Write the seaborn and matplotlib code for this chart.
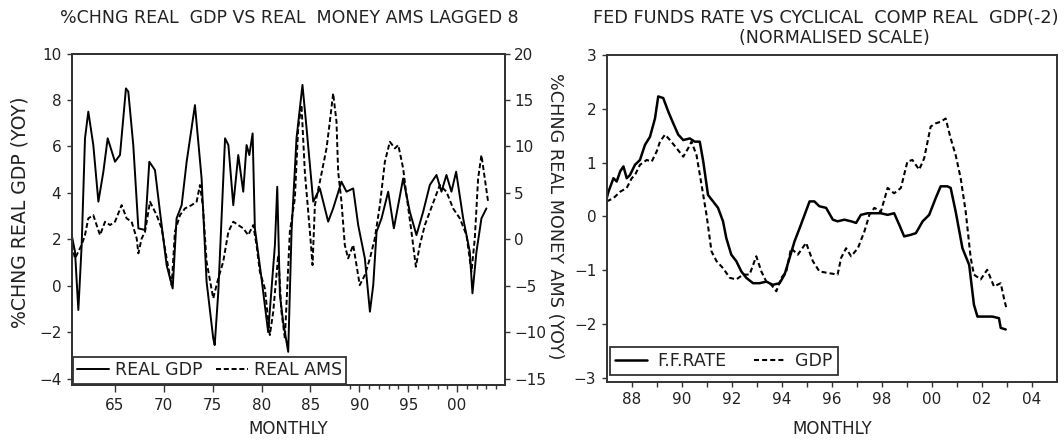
import matplotlib
matplotlib.use("Agg")
import matplotlib.pyplot as plt
import seaborn as sns
import pandas as pd
from matplotlib.ticker import FixedLocator, FuncFormatter

# ---------------- data ----------------
# Left panel: %chng real GDP (YoY, left axis)
GDP_YEARS = [1960.57, 1960.91, 1961.25, 1961.59, 1961.93, 1962.27, 1962.78, 1963.30, 1963.81, 1964.25,
             1965.00, 1965.51, 1966.12, 1966.36, 1966.87, 1967.39, 1968.07, 1968.51, 1969.09, 1969.60,
             1970.28, 1970.90, 1971.30, 1971.82, 1972.33, 1973.18, 1973.86, 1974.37, 1975.05, 1975.20,
             1975.57, 1976.26, 1976.60, 1977.10, 1977.61, 1978.12, 1978.46, 1978.74, 1979.08, 1979.31,
             1979.99, 1980.67, 1981.36, 1981.60, 1981.87, 1982.20, 1982.72, 1983.06, 1983.57, 1984.18,
             1984.60, 1985.28, 1985.96, 1986.81, 1987.32, 1988.17, 1988.68, 1989.37, 1989.88, 1990.56,
             1991.08, 1991.42, 1991.76, 1992.27, 1992.95, 1993.53, 1994.48, 1995.16, 1995.84, 1996.53,
             1997.21, 1997.89, 1998.40, 1998.91, 1999.42, 1999.90, 2000.62, 2001.30, 2001.57, 2001.98,
             2002.49, 2003.00]
GDP_YOY = [2.18, 1.46, -1.05, 1.75, 6.35, 7.50, 6.06, 3.62, 4.91, 6.35,
           5.34, 5.63, 8.50, 8.36, 6.06, 2.47, 2.40, 5.34, 4.98, 3.19,
           0.89, -0.12, 2.90, 3.47, 5.34, 7.78, 4.62, 0.17, -2.27, -2.56,
           -0.26, 6.35, 6.06, 3.47, 5.63, 4.05, 6.06, 5.63, 6.56, 2.47,
           0.31, -2.00, 1.75, 4.26, -0.40, -1.55, -2.85, 2.32, 6.35, 8.65,
           6.78, 3.62, 4.19, 2.76, 3.33, 4.48, 4.05, 4.19, 2.61, 1.18,
           -1.12, 0.03, 2.32, 2.90, 4.05, 2.47, 4.62, 3.19, 2.18, 3.19,
           4.34, 4.77, 4.05, 4.77, 4.05, 4.91, 2.90, 1.46, -0.33, 1.46,
           2.90, 3.33]

# Left panel: %chng real money AMS lagged 8 (YoY, right axis)
AMS_YEARS = [1960.57, 1960.91, 1961.25, 1961.59, 1961.93, 1962.27, 1962.78, 1963.12, 1963.47, 1963.98,
             1964.49, 1965.00, 1965.68, 1966.19, 1966.70, 1967.22, 1967.39, 1967.73, 1968.07, 1968.58,
             1969.26, 1969.77, 1970.28, 1970.80, 1971.13, 1971.65, 1972.16, 1972.84, 1973.35, 1973.69,
             1974.00, 1974.37, 1975.05, 1975.57, 1976.07, 1976.60, 1977.10, 1977.61, 1978.12, 1978.63,
             1979.14, 1979.48, 1979.82, 1980.33, 1980.84, 1981.19, 1981.70, 1982.03, 1982.38, 1982.89,
             1983.40, 1983.74, 1984.08, 1984.42, 1984.94, 1985.21, 1985.45, 1985.96, 1986.64, 1986.98,
             1987.32, 1987.66, 1987.83, 1988.17, 1988.51, 1988.85, 1989.37, 1990.04, 1990.56, 1991.08,
             1991.58, 1992.10, 1992.61, 1993.12, 1993.64, 1993.98, 1994.48, 1994.82, 1995.33, 1995.78,
             1996.19, 1996.70, 1997.21, 1997.72, 1998.23, 1998.91, 1999.59, 2000.28, 2000.96, 2001.47,
             2001.81, 2002.15, 2002.49, 2002.83, 2003.17]
AMS_YOY = [-0.60, -2.06, -1.34, -0.60, 0.45, 2.25, 2.60, 1.53, 0.45, 1.89,
           1.53, 1.89, 3.68, 2.25, 1.89, 0.09, -1.52, 0.09, 0.80, 4.04,
           2.60, 1.17, -2.06, -4.94, 0.81, 2.60, 3.32, 3.68, 4.04, 5.84,
           3.50, -2.42, -6.37, -4.20, -2.42, 0.81, 1.89, 1.53, 1.17, 0.45,
           1.53, -0.62, -3.50, -5.29, -10.32, -7.80, -1.70, -7.80, -10.68, 0.81,
           4.40, 11.95, 14.46, 7.28, 0.81, -2.78, 3.68, 6.20, 9.79, 12.67,
           15.72, 12.67, 7.28, 4.04, -0.62, -2.06, -0.62, -4.94, -3.86, -2.06,
           0.09, 3.68, 8.35, 10.50, 9.79, 10.15, 7.64, 4.76, 0.81, -2.96,
           -0.62, 1.53, 2.97, 4.40, 5.84, 5.12, 3.32, 2.25, 0.45, -3.50,
           0.09, 6.56, 9.07, 6.56, 4.04]

# Right panel: Fed funds rate (normalised)
FF_YEARS = [1987.00, 1987.07, 1987.27, 1987.40, 1987.54, 1987.67, 1987.80, 1987.93, 1988.13, 1988.33,
            1988.53, 1988.73, 1988.93, 1989.06, 1989.26, 1989.46, 1989.66, 1989.86, 1990.06, 1990.32,
            1990.52, 1990.72, 1990.86, 1991.05, 1991.25, 1991.45, 1991.65, 1991.78, 1991.98, 1992.18,
            1992.38, 1992.58, 1992.85, 1993.11, 1993.38, 1993.64, 1993.91, 1994.11, 1994.31, 1994.51,
            1994.71, 1994.91, 1995.11, 1995.30, 1995.50, 1995.77, 1996.04, 1996.23, 1996.50, 1996.77,
            1996.97, 1997.16, 1997.43, 1997.70, 1997.96, 1998.23, 1998.49, 1998.69, 1998.89, 1999.16,
            1999.36, 1999.63, 1999.89, 2000.15, 2000.35, 2000.62, 2000.75, 2000.95, 2001.22, 2001.49,
            2001.68, 2001.82, 2002.09, 2002.42, 2002.68, 2002.75, 2002.95]
FF_RATE = [0.34, 0.46, 0.71, 0.65, 0.84, 0.93, 0.71, 0.77, 0.96, 1.05,
           1.33, 1.48, 1.82, 2.23, 2.20, 1.95, 1.73, 1.52, 1.42, 1.45,
           1.39, 1.39, 1.02, 0.40, 0.28, 0.16, -0.09, -0.40, -0.71, -0.83,
           -1.02, -1.14, -1.24, -1.24, -1.21, -1.27, -1.24, -1.08, -0.77, -0.46,
           -0.22, 0.03, 0.28, 0.28, 0.19, 0.16, -0.06, -0.09, -0.06, -0.09,
           -0.12, 0.03, 0.06, 0.06, 0.06, 0.03, 0.06, -0.15, -0.37, -0.34,
           -0.31, -0.09, 0.03, 0.34, 0.56, 0.56, 0.53, 0.09, -0.59, -0.90,
           -1.64, -1.86, -1.86, -1.86, -1.89, -2.07, -2.10]

# Right panel: cyclical component of real GDP(-2) (normalised)
CYC_YEARS = [1987.00, 1987.27, 1987.54, 1987.80, 1988.00, 1988.13, 1988.33, 1988.60, 1988.80, 1989.00,
             1989.13, 1989.33, 1989.53, 1989.79, 1990.06, 1990.26, 1990.39, 1990.59, 1990.79, 1990.99,
             1991.19, 1991.39, 1991.65, 1991.92, 1992.18, 1992.45, 1992.71, 1992.98, 1993.18, 1993.38,
             1993.58, 1993.78, 1993.98, 1994.18, 1994.37, 1994.64, 1994.97, 1995.24, 1995.50, 1995.84,
             1996.23, 1996.37, 1996.57, 1996.77, 1997.04, 1997.30, 1997.50, 1997.70, 1997.96, 1998.23,
             1998.49, 1998.76, 1999.02, 1999.22, 1999.49, 1999.69, 1999.95, 2000.15, 2000.35, 2000.55,
             2000.75, 2000.95, 2001.15, 2001.35, 2001.55, 2001.68, 2001.95, 2002.21, 2002.48, 2002.75,
             2002.88, 2002.99]
CYC_GDP = [0.28, 0.34, 0.46, 0.53, 0.71, 0.77, 0.96, 1.05, 1.02, 1.21,
           1.39, 1.52, 1.42, 1.27, 1.11, 1.27, 1.39, 1.14, 0.59, 0.03,
           -0.65, -0.83, -0.96, -1.14, -1.17, -1.08, -1.08, -0.74, -1.02, -1.21,
           -1.27, -1.39, -1.14, -1.02, -0.59, -0.71, -0.49, -0.83, -1.02, -1.05,
           -1.08, -0.77, -0.59, -0.74, -0.59, -0.28, 0.03, 0.16, 0.09, 0.53,
           0.43, 0.53, 1.02, 1.05, 0.87, 1.08, 1.67, 1.73, 1.76, 1.82,
           1.45, 1.14, 0.71, 0.09, -0.77, -1.08, -1.17, -0.99, -1.30, -1.24,
           -1.52, -1.73]

LEFT_TITLE = "%CHNG REAL  GDP VS REAL  MONEY AMS LAGGED 8"
RIGHT_TITLE = ["FED FUNDS RATE VS CYCLICAL  COMP REAL  GDP(-2)", "(NORMALISED SCALE)"]

# ---------------- styling ----------------
sns.set_style("ticks")
plt.rcParams['font.family'] = ['DejaVu Sans']
TXT = '#222222'
FRAME = '#333333'

W, H = 1064, 445
fig = plt.figure(figsize=(W / 100, H / 100), dpi=100)


def px_axes(x0, y0, x1, y1):
    return [x0 / W, 1 - y1 / H, (x1 - x0) / W, (y1 - y0) / H]


ax1 = fig.add_axes(px_axes(71.7, 53.6, 505, 385))
ax1r = ax1.twinx()
ax2 = fig.add_axes(px_axes(606.7, 55, 1057, 381.7))

df_gdp = pd.DataFrame({"year": GDP_YEARS, "val": GDP_YOY})
df_ams = pd.DataFrame({"year": AMS_YEARS, "val": AMS_YOY})
df_ff = pd.DataFrame({"year": FF_YEARS, "val": FF_RATE})
df_cyc = pd.DataFrame({"year": CYC_YEARS, "val": CYC_GDP})

sns.lineplot(data=df_gdp, x="year", y="val", ax=ax1, color='black', lw=1.4, estimator=None)
sns.lineplot(data=df_ams, x="year", y="val", ax=ax1r, color='black', lw=1.4,
             linestyle=(0, (2.6, 1.4)), estimator=None)
sns.lineplot(data=df_ff, x="year", y="val", ax=ax2, color='black', lw=1.8, estimator=None)
sns.lineplot(data=df_cyc, x="year", y="val", ax=ax2, color='black', lw=1.5,
             linestyle=(0, (2.4, 1.5)), estimator=None)

# ---- left panel axes ----
ax1.set_xlim(1960.57, 2004.9)
ax1.set_ylim(-4.28, 10)
ax1r.set_ylim((-4.28 - 2) * 2.5, 20)
ax1.xaxis.set_major_locator(FixedLocator(list(range(1965, 2001, 5))))
ax1.xaxis.set_minor_locator(FixedLocator([y for y in range(1989, 2005) if y % 5]))
ax1.xaxis.set_major_formatter(FuncFormatter(lambda v, p: f"{int(round(v)) % 100:02d}"))
ax1.yaxis.set_major_locator(FixedLocator(list(range(-4, 11, 2))))
ax1r.yaxis.set_major_locator(FixedLocator(list(range(-15, 21, 5))))

# ---- right panel axes ----
ax2.set_xlim(1987, 2005)
ax2.set_ylim(-3.07, 3)
ax2.xaxis.set_major_locator(FixedLocator(list(range(1988, 2005, 2))))
ax2.xaxis.set_minor_locator(FixedLocator(list(range(1989, 2005, 2))))
ax2.xaxis.set_major_formatter(FuncFormatter(lambda v, p: f"{int(round(v)) % 100:02d}"))
ax2.yaxis.set_major_locator(FixedLocator(list(range(-3, 4))))

for a in (ax1, ax1r, ax2):
    a.set_xlabel("")
    a.set_ylabel("")
    for s in a.spines.values():
        s.set_visible(True)
        s.set_color(FRAME)
        s.set_linewidth(1.4)
    a.tick_params(axis='both', which='major', direction='out', length=3.5, width=1.0,
                  color=FRAME, labelcolor=TXT, labelsize=11, pad=4)
    a.tick_params(axis='both', which='minor', direction='out', length=3.0, width=1.0, color=FRAME)
ax1.tick_params(axis='x', which='major', length=5, pad=4)
ax2.tick_params(axis='x', which='minor', length=3.5)
ax1r.tick_params(axis='y', pad=3)

# labels
ax1.set_xlabel("MONTHLY", fontsize=12, color=TXT)
ax1.xaxis.label.set_va('center')
ax1.xaxis.set_label_coords(0.5, (385 - 429) / 331.4)
ax2.set_xlabel("MONTHLY", fontsize=12, color=TXT)
ax2.xaxis.label.set_va('center')
ax2.xaxis.set_label_coords(0.5, (381.7 - 429) / 326.7)
ax1.set_ylabel("%CHNG REAL GDP (YOY)", fontsize=13.6, color=TXT, va='center', ha='center')
ax1.yaxis.set_label_coords(-0.119, 0.52)
ax1r.set_ylabel("%CHNG REAL MONEY AMS (YOY)", fontsize=12.7, color=TXT, rotation=270,
                va='center', ha='center')
ax1r.yaxis.set_label_coords(1.115, 0.51)

# titles
fig.text(289 / W, 1 - 18 / H, LEFT_TITLE, ha='center', va='center', fontsize=12.5, color=TXT)
fig.text(826 / W, 1 - 18 / H, RIGHT_TITLE[0], ha='center', va='center', fontsize=12.8, color=TXT)
fig.text(834 / W, 1 - 38 / H, RIGHT_TITLE[1], ha='center', va='center', fontsize=12.5, color=TXT)

# legends
h_gdp = ax1.lines[0]
h_ams = ax1r.lines[0]
leg1 = ax1r.legend([h_gdp, h_ams], ["REAL GDP", "REAL AMS"], loc='lower left',
                   bbox_to_anchor=(0.002, 0.004), borderaxespad=0, ncol=2, fontsize=12.5,
                   frameon=True, fancybox=False, framealpha=1, edgecolor=FRAME,
                   handlelength=1.85, handletextpad=0.35, columnspacing=0.75, borderpad=0.25)
leg1.get_frame().set_linewidth(1.3)
for t in leg1.get_texts():
    t.set_color(TXT)

leg2 = ax2.legend([ax2.lines[0], ax2.lines[1]], ["F.F.RATE", "GDP"], loc='lower left',
                  bbox_to_anchor=(0.0073, 0.0205), borderaxespad=0, ncol=2, fontsize=12.5,
                  frameon=True, fancybox=False, framealpha=1, edgecolor=FRAME,
                  handlelength=1.85, handletextpad=0.55, columnspacing=1.6, borderpad=0.3)
leg2.get_frame().set_linewidth(1.3)
for t in leg2.get_texts():
    t.set_color(TXT)

fig.savefig("out.png", dpi=100, facecolor='white')
